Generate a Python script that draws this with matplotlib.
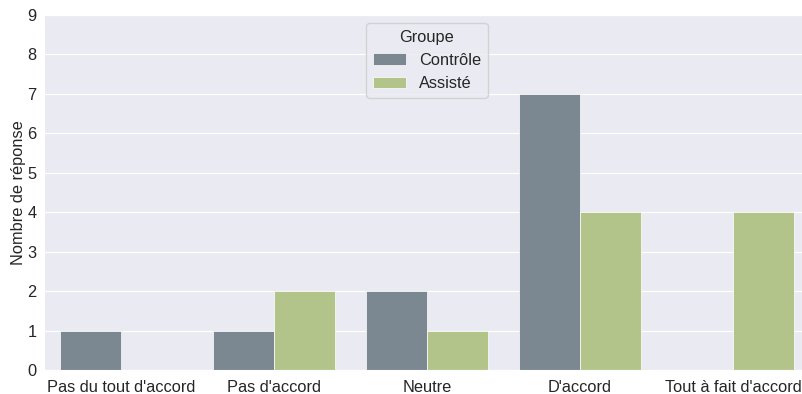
import numpy as np
import matplotlib
matplotlib.use("Agg")
import matplotlib.pyplot as plt
import seaborn as sns

categories = ["Pas du tout d'accord", "Pas d'accord", "Neutre", "D'accord", "Tout à fait d'accord"]
controle = [1, 1, 2, 7, 0]
assiste = [0, 2, 1, 4, 4]
groups = ["Contrôle", "Assisté"]
colors = ["#7b8892", "#b3c48b"]

sns.set_style("darkgrid")
plt.rcParams['font.family'] = ['Liberation Sans', 'DejaVu Sans']

fig = plt.figure(figsize=(8.03, 3.94), dpi=100)
ax = fig.add_axes([44.5 / 803, 1 - 370 / 394, 765 / 803, 355 / 394])

x = np.arange(len(categories))
w = 0.4
ax.bar(x - w / 2, controle, w, color=colors[0], label=groups[0], edgecolor="white", linewidth=0.5)
ax.bar(x + w / 2, assiste, w, color=colors[1], label=groups[1], edgecolor="white", linewidth=0.5)

ax.set_xlim(-0.5, 4.5)
ax.set_ylim(0, 9)
ax.set_yticks(range(10))
ax.set_xticks(x)
ax.set_xticklabels(categories, fontsize=11.8)
ax.tick_params(axis="y", labelsize=11.8, pad=2)
ax.grid(axis="x", visible=False)
ax.set_ylabel("Nombre de réponse", fontsize=11.8, labelpad=1)
ax.set_xlabel("")
leg = ax.legend(title="Groupe", loc="upper center", bbox_to_anchor=(0.5, 1.0), fontsize=11.8, title_fontsize=11.8)

fig.savefig("out.png", dpi=100)
